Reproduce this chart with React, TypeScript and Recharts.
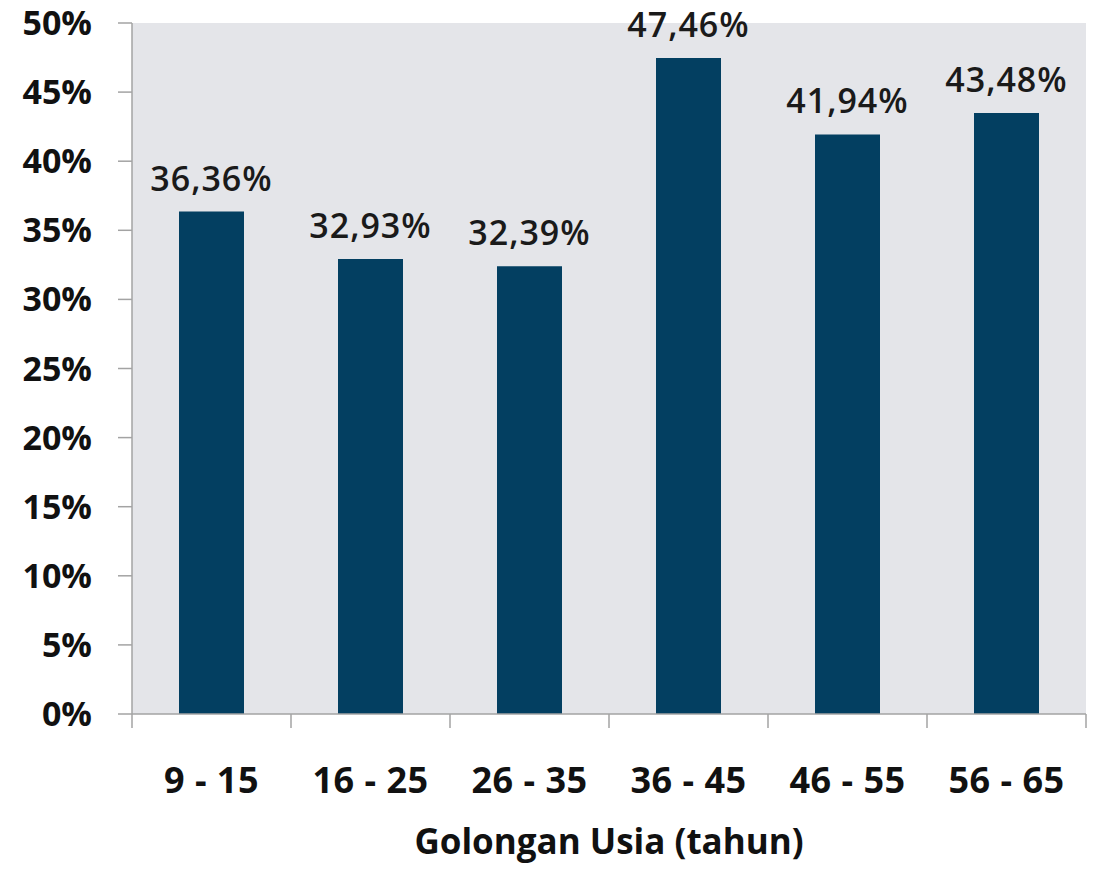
import React from 'react';
import { BarChart, Bar, XAxis, YAxis, CartesianGrid, LabelList } from 'recharts';

const categories = ['9 - 15', '16 - 25', '26 - 35', '36 - 45', '46 - 55', '56 - 65'];
const values = [36.36, 32.93, 32.39, 47.46, 41.94, 43.48];
const yTicks = [0, 5, 10, 15, 20, 25, 30, 35, 40, 45, 50];
const xTitle = 'Golongan Usia (tahun)';

const data = categories.map((c, i) => ({ category: c, value: values[i] }));

const CHART_W = 1096;
const CHART_H = 869;
const MARGIN = { top: 23, right: 10, bottom: 0, left: 0 };
const Y_W = 132;
const X_H = 155;
const FONT = '"Open Sans", "Noto Sans", sans-serif';
const AXIS_COLOR = '#a3a3a3';
const BAND = (CHART_W - MARGIN.left - MARGIN.right - Y_W) / categories.length;

const XTick = (props: any) => {
  const { x, y, payload, index } = props;
  const half = BAND / 2;
  const isLast = index === categories.length - 1;
  return (
    <g>
      <line x1={x - half} x2={x - half} y1={y} y2={y + 14} stroke={AXIS_COLOR} strokeWidth={1.5} />
      {isLast && (
        <line x1={x + half} x2={x + half} y1={y} y2={y + 14} stroke={AXIS_COLOR} strokeWidth={1.5} />
      )}
      <text
        x={x}
        y={y + 79}
        textAnchor="middle"
        fontFamily={FONT}
        fontWeight={700}
        fontSize={36}
        letterSpacing={0.5}
        fill="#111"
      >
        {payload.value}
      </text>
    </g>
  );
};

const fmt = (v: any) => `${Number(v).toFixed(2).replace('.', ',')}%`;

export default function App() {
  return (
    <div style={{ position: 'absolute', left: 0, top: 0, background: '#fff' }}>
      <BarChart width={CHART_W} height={CHART_H} data={data} margin={MARGIN}>
        <CartesianGrid horizontal={false} vertical={false} fill="#e4e5e9" />
        <XAxis
          dataKey="category"
          height={X_H}
          tick={<XTick />}
          tickLine={false}
          tickSize={0}
          tickMargin={0}
          interval={0}
          axisLine={{ stroke: AXIS_COLOR, strokeWidth: 1.5 }}
          label={{
            value: xTitle,
            position: 'insideBottom',
            offset: 15,
            style: { fontFamily: FONT, fontWeight: 700, fontSize: 35, fill: '#111' },
          }}
        />
        <YAxis
          width={Y_W}
          domain={[0, 50]}
          ticks={yTicks}
          interval={0}
          tickFormatter={(v: number) => `${v}%`}
          tickSize={14}
          tickMargin={26}
          tickLine={{ stroke: AXIS_COLOR, strokeWidth: 1.5 }}
          axisLine={{ stroke: AXIS_COLOR, strokeWidth: 1.5 }}
          tick={{ fontFamily: FONT, fontWeight: 700, fontSize: 34, fill: '#111' }}
        />
        <Bar dataKey="value" fill="#033f61" barSize={65} isAnimationActive={false}>
          <LabelList
            dataKey="value"
            position="top"
            offset={21}
            formatter={fmt}
            style={{ fontFamily: FONT, fontWeight: 600, fontSize: 34, letterSpacing: 1, fill: '#1a1a1a' }}
          />
        </Bar>
      </BarChart>
    </div>
  );
}
